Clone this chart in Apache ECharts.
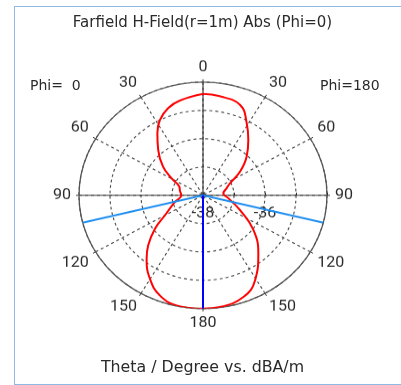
<!DOCTYPE html>
<html><head><meta charset="utf-8">
<script src="https://cdn.jsdelivr.net/npm/echarts@6/dist/echarts.min.js"></script>
<style>
html,body{margin:0;padding:0;background:#fff;overflow:hidden}
#stage{position:relative;width:401px;height:385px;overflow:hidden;background:#fff}
#frame{position:absolute;left:14px;top:6px;width:400px;height:377px;border-left:1px solid #8db9e3;border-top:1px solid #8db9e3;border-bottom:1px solid #8db9e3}
#polar{position:absolute;left:0;top:0;width:401px;height:422px;transform:scaleY(0.9135);transform-origin:0 0}
#text{position:absolute;left:0;top:0;width:401px;height:385px}
</style></head>
<body><div id="stage"><div id="frame"></div><div id="polar"></div><div id="text"></div></div>
<script>
// ---- data ----
// Phi=0 half (drawn on the left): theta in degrees and H-field in dBA/m
const thetaPhi0 = [0, 12.5, 20, 27.6, 33.9, 42, 51.8, 59.4, 68.3, 78, 90, 104.7, 120, 127.3, 135, 141, 149.9, 158.5, 167.7, 180];
const hPhi0 = [-34.42, -34.57, -34.72, -35.00, -35.36, -35.84, -36.36, -36.82, -37.18, -37.24, -37.30, -37.06, -36.58, -36.05, -35.50, -35.11, -34.59, -34.20, -34.02, -34.00];
// Phi=180 half (drawn on the right)
const thetaPhi180 = [0, 8.7, 20.5, 29, 36.8, 45.9, 55, 64, 72, 83.7, 97.5, 113.5, 127, 139, 150.8, 160, 172, 180];
const hPhi180 = [-34.42, -34.46, -34.59, -35.09, -35.56, -36.04, -36.54, -37.03, -37.20, -37.34, -37.17, -36.70, -35.96, -35.28, -34.56, -34.18, -34.02, -34.00];
const mainLobeTheta = [180];
const beamEdgeTheta = [104, 104];   // Phi=0 side, Phi=180 side
const radialRange = [-38, -34];
const radialLabels = ['-38', '-36'];
const titleText = 'Farfield H-Field(r=1m) Abs (Phi=0)';
const footerText = 'Theta / Degree vs. dBA/m';
const phiLeftText = 'Phi=  0';
const phiRightText = 'Phi=180';

const FONT = 'DejaVu Sans';
const LABEL_FONT = 'Roboto';
const rightAngle = t => t;         // Phi=180 half: clockwise from top
const leftAngle = t => 360 - t;    // Phi=0 half: anticlockwise from top

const polar = echarts.init(document.getElementById('polar'), null, {renderer: 'canvas'});
const center = [203, 213.8];
const R = 124;
polar.setOption({
  animation: false,
  backgroundColor: 'transparent',
  polar: [
    {center: center, radius: R},
    {center: center, radius: R}
  ],
  angleAxis: [
    {
      polarIndex: 0, type: 'value', min: 90, max: 450, interval: 30,
      startAngle: 0, clockwise: true,
      axisLine: {show: true, lineStyle: {color: '#555', width: 1.3}},
      axisTick: {show: true, length: 3, lineStyle: {color: '#333'}},
      axisLabel: {
        margin: 8, color: '#2a2a2a', fontFamily: LABEL_FONT, fontSize: 16,
        formatter: v => { const a = ((v % 360) + 360) % 360; return String(a <= 180 ? a : 360 - a); }
      },
      splitLine: {show: true, lineStyle: {color: '#444', type: [3, 3], width: 1.1}}
    },
    {
      polarIndex: 1, type: 'value', min: 0, max: 360, interval: 90, startAngle: 90,
      axisLine: {show: false}, axisTick: {show: false}, axisLabel: {show: false},
      splitLine: {show: true, lineStyle: {color: '#333', width: 1.1}}
    }
  ],
  radiusAxis: [
    {
      polarIndex: 0, type: 'value', min: radialRange[0], max: radialRange[1], interval: 1,
      axisLine: {show: false},
      axisTick: {show: true, length: 3, lineStyle: {color: '#333'}},
      axisLabel: {
        margin: -28, color: '#2a2a2a', fontFamily: LABEL_FONT, fontSize: 16,
        formatter: v => radialLabels.indexOf(String(v)) >= 0 ? String(v) : ''
      },
      splitLine: {show: true, lineStyle: {color: '#444', type: [3, 3], width: 1.1}}
    },
    {
      polarIndex: 1, type: 'value', min: radialRange[0], max: radialRange[1],
      axisLine: {show: false}, axisTick: {show: false}, axisLabel: {show: false}, splitLine: {show: false}
    }
  ],
  series: [
    {
      type: 'line', coordinateSystem: 'polar', polarIndex: 0, smooth: 0.45, symbol: 'none',
      lineStyle: {color: '#ff0000', width: 2},
      data: hPhi0.map((r, i) => [r, leftAngle(thetaPhi0[i])])
    },
    {
      type: 'line', coordinateSystem: 'polar', polarIndex: 0, smooth: 0.45, symbol: 'none',
      lineStyle: {color: '#ff0000', width: 2},
      data: hPhi180.map((r, i) => [r, rightAngle(thetaPhi180[i])])
    },
    {
      type: 'line', coordinateSystem: 'polar', polarIndex: 0, symbol: 'none',
      lineStyle: {color: '#1e8ef0', width: 2},
      data: [
        [radialRange[1], leftAngle(beamEdgeTheta[0])],
        [radialRange[0], leftAngle(beamEdgeTheta[0])],
        [radialRange[0], rightAngle(beamEdgeTheta[1])],
        [radialRange[1], rightAngle(beamEdgeTheta[1])]
      ]
    },
    {
      type: 'line', coordinateSystem: 'polar', polarIndex: 0, symbol: 'none',
      lineStyle: {color: '#0000ff', width: 2},
      data: [
        [radialRange[0], rightAngle(mainLobeTheta[0])],
        [radialRange[1], rightAngle(mainLobeTheta[0])]
      ]
    }
  ]
});

const text = echarts.init(document.getElementById('text'), null, {renderer: 'canvas'});
const txt = (s, x, y, align, size) => ({
  type: 'text', x: x, y: y,
  style: {text: s, fill: '#2a2a2a', fontFamily: FONT, fontSize: size, align: align, verticalAlign: 'middle'}
});
text.setOption({
  animation: false,
  backgroundColor: 'transparent',
  graphic: [
    txt(titleText, 202.5, 22.7, 'center', 15),
    txt(footerText, 202.5, 368.3, 'center', 15.8),
    txt(phiLeftText, 30, 86.7, 'left', 14),
    txt(phiRightText, 320, 86.7, 'left', 14)
  ]
});
</script>
</body></html>
